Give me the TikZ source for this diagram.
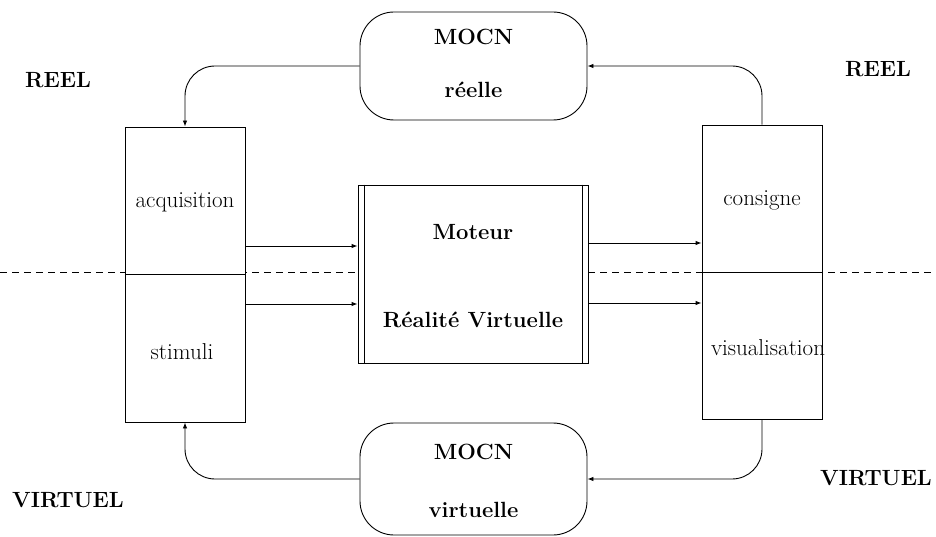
\documentclass[tikz,border=0pt]{standalone}
\usetikzlibrary{arrows.meta}
\begin{document}
\begin{tikzpicture}[x=1pt,y=-1pt,
  lbl/.style={font=\fontsize{22}{26}\selectfont\bfseries},
  txt/.style={font=\fontsize{23}{27}\selectfont},
  bx/.style={draw,line width=0.9pt,fill=white,inner sep=0pt},
  arr/.style={line width=0.9pt,-{Latex[length=6pt,width=4.5pt]}},
  conn/.style={arr,rounded corners=30pt}]
\useasboundingbox (0,0) rectangle (936,537);
% dashed separator
\draw[line width=0.8pt,dash pattern=on 7pt off 5pt] (0,272) -- (936,272);
% boxes
\node[bx,minimum width=120pt,minimum height=295pt] (lbox) at (185,274.5) {};
\node[bx,minimum width=120pt,minimum height=294pt] (rbox) at (762,272) {};
\draw[line width=0.9pt] (lbox.west) -- (lbox.east);
\draw[line width=0.9pt] (rbox.west) -- (rbox.east);
\node[bx,minimum width=230pt,minimum height=178pt] (mid) at (473,274) {};
\draw[line width=0.9pt] ([xshift=7pt]mid.north west) -- ([xshift=7pt]mid.south west);
\draw[line width=0.9pt] ([xshift=-6pt]mid.north east) -- ([xshift=-6pt]mid.south east);
\node[bx,rounded corners=34pt,minimum width=227pt,minimum height=108pt] (mtop) at (473.5,66) {};
\node[bx,rounded corners=34pt,minimum width=227pt,minimum height=112pt] (mbot) at (473.5,479) {};
% texts
\node[txt] (acq) at (185,202) {acquisition};
\node[txt] (stim) at (182,352) {stimuli};
\node[txt] (cons) at (762,200) {consigne};
\node[txt] (visu) at (768,348) {visualisation};
\node[lbl] (mot) at (473,232) {Moteur};
\node[lbl] (rv) at (473,320) {Réalité Virtuelle};
\node[lbl] (mt1) at (473.5,37) {MOCN};
\node[lbl] (mt2) at (473.5,90) {réelle};
\node[lbl] (mb1) at (473.5,452) {MOCN};
\node[lbl] (mb2) at (473.5,510) {virtuelle};
\node[lbl] (reel1) at (58,80) {REEL};
\node[lbl] (reel2) at (878,69) {REEL};
\node[lbl] (virt1) at (68,500) {VIRTUEL};
\node[lbl] (virt2) at (876,478) {VIRTUEL};
% connectors
\draw[conn] (mtop.west) -| (lbox.north);
\draw[conn] (rbox.north) |- (mtop.east);
\draw[conn] (rbox.south) |- (mbot.east);
\draw[conn] (mbot.west) -| (lbox.south);
\draw[arr] (lbox.east |- 0,246) -- (mid.west |- 0,246);
\draw[arr] (lbox.east |- 0,304) -- (mid.west |- 0,304);
\draw[arr] (mid.east |- 0,243) -- (rbox.west |- 0,243);
\draw[arr] (mid.east |- 0,303) -- (rbox.west |- 0,303);
\end{tikzpicture}
\end{document}
